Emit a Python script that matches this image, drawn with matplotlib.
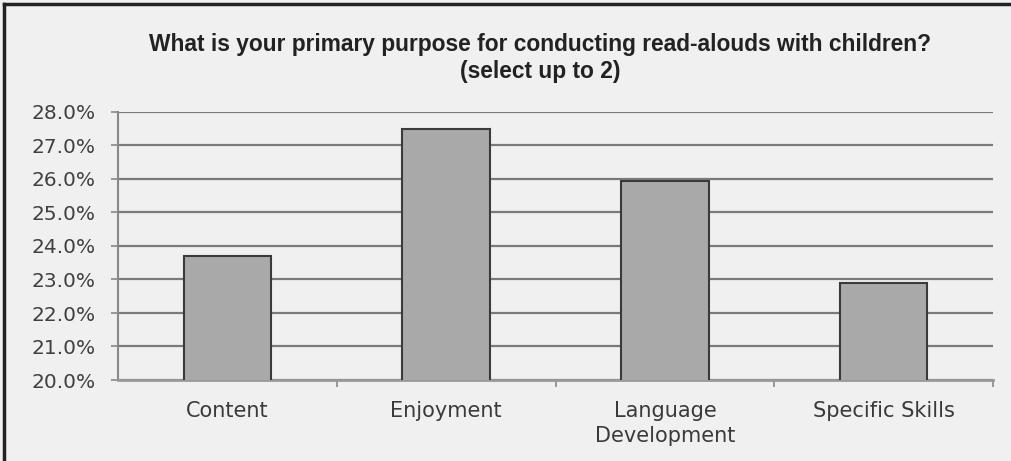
import matplotlib.pyplot as plt
from matplotlib.lines import Line2D
from matplotlib.ticker import FuncFormatter, FixedLocator

categories = ['Content', 'Enjoyment', 'Language\nDevelopment', 'Specific Skills']
values = [23.7, 27.5, 25.95, 22.9]
y_ticks = [20, 21, 22, 23, 24, 25, 26, 27, 28]

title = 'What is your primary purpose for conducting read-alouds with children?\n(select up to 2)'

plt.rcParams['font.family'] = ['Liberation Sans', 'DejaVu Sans']

fig = plt.figure(figsize=(10.11, 4.61), dpi=100, facecolor='#f0f0f0')
ax = fig.add_axes([118 / 1011, 1 - 380 / 461, 875 / 1011, 268 / 461])
ax.set_facecolor('#f0f0f0')

x = list(range(len(categories)))
ax.bar(x, values, width=0.4, bottom=0, color='#a9a9a9', edgecolor='#3a3a3a', linewidth=1.5, zorder=3)

ax.set_ylim(20, 28)
ax.set_xlim(-0.5, len(categories) - 0.5)
ax.set_yticks(y_ticks)
ax.yaxis.set_major_formatter(FuncFormatter(lambda v, p: f'{v:.1f}%'))
for t in y_ticks:
    ax.axhline(t, color='#7a7a7a', linewidth=1.6, zorder=1)

ax.set_xticks(x)
ax.set_xticklabels(categories, fontsize=15, color='#3a3a3a', linespacing=1.3, family='DejaVu Sans')
ax.xaxis.set_minor_locator(FixedLocator([i + 0.5 for i in x]))
ax.tick_params(axis='x', which='major', length=0, pad=15)
ax.tick_params(axis='x', which='minor', length=5, color='#888888', width=1.2)
ax.tick_params(axis='y', length=5, color='#888888', width=1.2, labelsize=14.5, labelcolor='#404040', pad=11)
ax.tick_params(axis='y', labelfontfamily='DejaVu Sans')

for s in ['top', 'right']:
    ax.spines[s].set_visible(False)
ax.spines['left'].set_color('#888888')
ax.spines['left'].set_linewidth(1.5)
ax.spines['bottom'].set_color('#999999')
ax.spines['bottom'].set_linewidth(2)

fig.text(540 / 1011, 1 - 58 / 461, title, ha='center', va='center', fontsize=16.4, fontweight='bold', color='#222222', linespacing=1.2)

# outer frame on left and top
fig.add_artist(Line2D([4 / 1011, 4 / 1011], [0, 1 - 4 / 461], transform=fig.transFigure, color='#222222', linewidth=2.5))
fig.add_artist(Line2D([4 / 1011, 1], [1 - 4 / 461, 1 - 4 / 461], transform=fig.transFigure, color='#222222', linewidth=2.5))

fig.savefig('out.png', dpi=100, facecolor=fig.get_facecolor())
